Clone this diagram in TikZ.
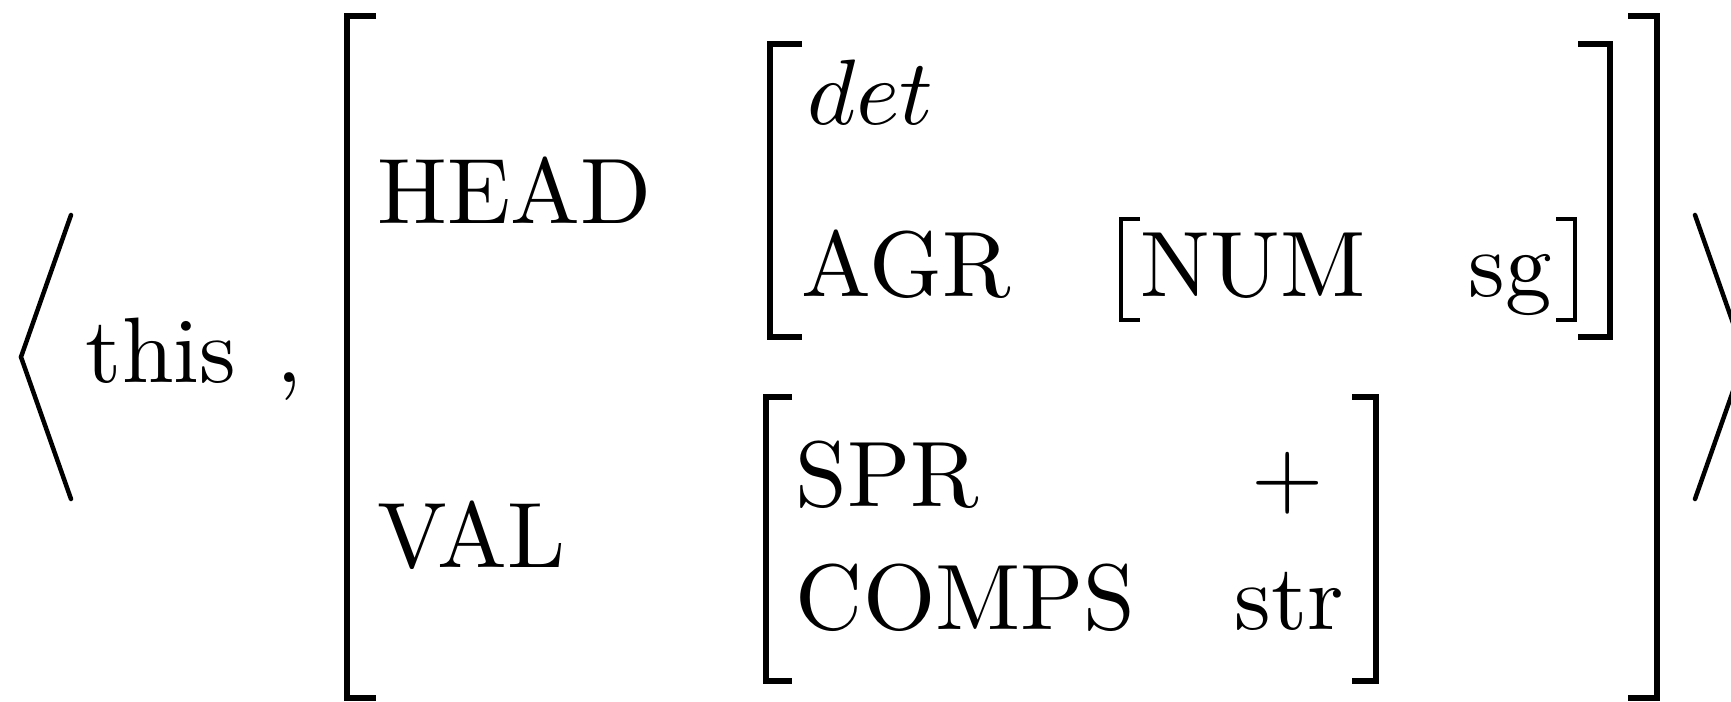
\documentclass[tikz,border=0pt]{standalone}
\usepackage{amsmath}
\usepackage{tikz}

\begin{document}
\begin{tikzpicture}[
    x=1pt, y=-1pt,
    feat/.style={anchor=base west, inner sep=0pt, scale=9.3},
    bigbrack/.style={line width=6.5pt, line join=miter},
    midbrack/.style={line width=6pt, line join=miter},
    smallbrack/.style={line width=4.5pt, line join=miter},
    angle/.style={line width=4.5pt, line cap=round, line join=miter}
]
    \useasboundingbox (0,0) rectangle (1731,701);
    % pair delimiters
    \draw[angle] (71,215) -- (21,357) -- (71,499);
    \draw[angle] (1695,215) -- (1745,357) -- (1695,499);
    \node[feat] (this) at (84,382) {this};
    \node[feat] (comma) at (275,382) {,};
    % outer matrix
    \draw[bigbrack] (376,16) -| (347,698) -- (376,698);
    \draw[bigbrack] (1628,16) -| (1657,698) -- (1628,698);
    \node[feat] (head) at (376,223) {HEAD};
    \node[feat] (val) at (376,567) {VAL};
    % value of HEAD
    \draw[midbrack] (802,44) -| (770,337) -- (802,337);
    \draw[midbrack] (1578,44) -| (1610,337) -- (1578,337);
    \node[feat] (det) at (806,124) {$det$};
    \node[feat] (agr) at (800,296) {AGR};
    \draw[smallbrack] (1140,219) -| (1121,320) -- (1140,320);
    \draw[smallbrack] (1556,219) -| (1575,320) -- (1556,320);
    \node[feat] (num) at (1139,296) {NUM};
    \node[feat] (sg) at (1467,296) {sg};
    % value of VAL
    \draw[midbrack] (792,397) -| (766,681) -- (792,681);
    \draw[midbrack] (1352,397) -| (1376,681) -- (1352,681);
    \node[feat] (spr) at (794,506) {SPR};
    \node[feat] (plus) at (1250,506) {$+$};
    \node[feat] (comps) at (794,629) {COMPS};
    \node[feat] (str) at (1233,629) {str};
\end{tikzpicture}
\end{document}
